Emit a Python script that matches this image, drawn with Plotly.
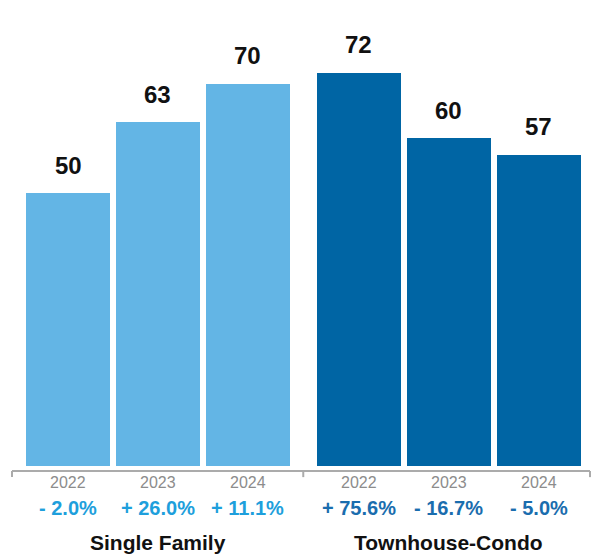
import plotly.graph_objects as go

groups = ["Single Family", "Townhouse-Condo"]
years = ["2022", "2023", "2024"]
values = {"Single Family": [50, 63, 70], "Townhouse-Condo": [72, 60, 57]}
changes = {"Single Family": ["- 2.0%", "+ 26.0%", "+ 11.1%"],
           "Townhouse-Condo": ["+ 75.6%", "- 16.7%", "- 5.0%"]}

bar_colors = {"Single Family": "#63B5E5", "Townhouse-Condo": "#0065A4"}
pct_colors = {"Single Family": "#1E9FDC", "Townhouse-Condo": "#1A6DAE"}

GAP = 0.24
BW = 0.935
FONT = "Liberation Sans, Arial, sans-serif"

fig = go.Figure()
annotations = []
for g, grp in enumerate(groups):
    xs = [i + g * (len(years) + GAP) for i in range(len(years))]
    fig.add_trace(go.Bar(x=xs, y=values[grp], width=BW,
                         marker=dict(color=bar_colors[grp], line=dict(width=0)),
                         hoverinfo="skip", showlegend=False))
    for x, v, yr, ch in zip(xs, values[grp], years, changes[grp]):
        annotations.append(dict(x=x, y=v, xref="x", yref="y", text=str(v), showarrow=False,
                                yanchor="middle", yshift=28,
                                font=dict(family=FONT, size=24, color="#111111", weight="bold")))
        annotations.append(dict(x=x, y=0, xref="x", yref="y", text=yr, showarrow=False,
                                yanchor="middle", yshift=-16,
                                font=dict(family=FONT, size=16, color="#8C8C8C")))
        annotations.append(dict(x=x, y=0, xref="x", yref="y", text=ch, showarrow=False,
                                yanchor="middle", yshift=-42,
                                font=dict(family=FONT, size=20, color=pct_colors[grp], weight="bold")))
    annotations.append(dict(x=xs[1], y=0, xref="x", yref="y", text=grp, showarrow=False,
                            yanchor="middle", yshift=-76,
                            font=dict(family=FONT, size=21, color="#111111", weight="bold")))

line_color = "#ABABAB"
shapes = [dict(type="line", xref="x", yref="paper", x0=-0.6236, x1=5.813, y0=0, y1=0,
               line=dict(color=line_color, width=2))]
for tx in [-0.6236, 2.62, 5.813]:
    shapes.append(dict(type="line", xref="x", yref="paper", x0=tx, x1=tx, y0=0, y1=-0.013,
                       line=dict(color=line_color, width=2)))

fig.update_layout(
    width=592, height=556,
    margin=dict(l=0, r=0, t=0, b=85),
    paper_bgcolor="white", plot_bgcolor="white",
    xaxis=dict(range=[-0.7572, 5.8352], visible=False, fixedrange=True),
    yaxis=dict(range=[-0.916, 85.35], visible=False, fixedrange=True),
    annotations=annotations, shapes=shapes,
    bargap=0,
)
fig.write_html("out.html")
